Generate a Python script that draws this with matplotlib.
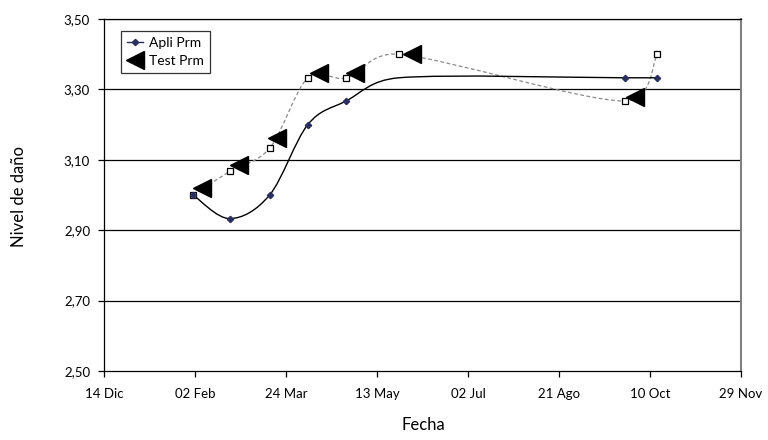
import matplotlib
matplotlib.use("Agg")
import matplotlib.pyplot as plt
import numpy as np
from matplotlib.path import Path
from matplotlib.patches import PathPatch
from matplotlib.lines import Line2D

plt.rcParams['font.family'] = ['Lato', 'DejaVu Sans']

# ---- data (days since 14 Dic) ----
x_tick_days = [0, 50, 100, 150, 200, 250, 300, 350]
x_tick_labels = ["14 Dic", "02 Feb", "24 Mar", "13 May", "02 Jul", "21 Ago", "10 Oct", "29 Nov"]
y_ticks = [2.50, 2.70, 2.90, 3.10, 3.30, 3.50]
y_tick_labels = ["2,50", "2,70", "2,90", "3,10", "3,30", "3,50"]

apli_days = [49, 69, 91, 112, 133, 162, 286, 304]
apli_vals = [3.000, 2.933, 3.000, 3.200, 3.267, 3.333, 3.333, 3.333]
apli_marked = [0, 1, 2, 3, 4, 6, 7]

test_sq_days = [49, 69, 91, 112, 133, 162, 286, 304]
test_sq_vals = [3.000, 3.067, 3.133, 3.333, 3.333, 3.400, 3.267, 3.400]

test_tri_days = [54, 74, 95, 118, 138, 169, 292]
test_tri_vals = [3.019, 3.085, 3.162, 3.346, 3.346, 3.400, 3.279]

W, H, DPI = 768, 440, 100
fig = plt.figure(figsize=(W / DPI, H / DPI), dpi=DPI)
L, R, T, B = 104, 741, 19, 371
ax = fig.add_axes([L / W, 1 - B / H, (R - L) / W, (B - T) / H])
ax.set_xlim(0, 350)
ax.set_ylim(2.5, 3.5)


def excel_smooth_path(xs, ys):
    pts = ax.transData.transform(np.column_stack([xs, ys]))
    n = len(pts)
    verts = [pts[0]]
    codes = [Path.MOVETO]
    for i in range(n - 1):
        p1, p2 = pts[i], pts[i + 1]
        p0 = pts[i - 1] if i > 0 else p1
        p3 = pts[i + 2] if i + 2 < n else p2
        d12 = np.hypot(*(p2 - p1))
        d02 = np.hypot(*(p2 - p0))
        d13 = np.hypot(*(p3 - p1))
        f0 = 1 / 6 if d02 / 6 < d12 / 2 else (d12 / (2 * d02) if d02 > 0 else 0)
        f1 = 1 / 6 if d13 / 6 < d12 / 2 else (d12 / (2 * d13) if d13 > 0 else 0)
        c1 = p1 + (p2 - p0) * f0
        c2 = p2 - (p3 - p1) * f1
        verts += [c1, c2, p2]
        codes += [Path.CURVE4] * 3
    data_verts = ax.transData.inverted().transform(np.array(verts))
    return Path(data_verts, codes)


# gridlines
for yv in y_ticks[1:]:
    ax.axhline(yv, color='black', lw=0.9, zorder=1)

# Test Prm dashed smoothed line with square markers
ax.add_patch(PathPatch(excel_smooth_path(test_sq_days, test_sq_vals), fill=False,
                       edgecolor='#8a8a8a', lw=0.9, linestyle=(0, (3, 2)), zorder=2))
ax.plot(test_sq_days, test_sq_vals, linestyle='none', marker='s', markersize=4.2,
        markerfacecolor='white', markeredgecolor='black', markeredgewidth=0.9, zorder=4)

# Apli Prm solid smoothed line with diamonds
ax.add_patch(PathPatch(excel_smooth_path(apli_days, apli_vals), fill=False,
                       edgecolor='black', lw=1.0, zorder=3))
ax.plot(apli_days, apli_vals, linestyle='none', marker='D', markersize=3.2,
        markevery=apli_marked,
        markerfacecolor='#2b2f5e', markeredgecolor='#2b2f5e', zorder=4)

# Test Prm triangles
ax.plot(test_tri_days, test_tri_vals, linestyle='none', marker='<', markersize=12.5,
        color='black', zorder=5)

# axes styling
ax.spines['top'].set_color('black')
ax.spines['top'].set_linewidth(0.9)
ax.spines['right'].set_color('#808080')
ax.spines['right'].set_linewidth(1.5)
ax.spines['left'].set_color('black')
ax.spines['left'].set_linewidth(0.9)
ax.spines['bottom'].set_color('black')
ax.spines['bottom'].set_linewidth(0.9)

ax.set_xticks(x_tick_days)
ax.set_xticklabels(x_tick_labels)
ax.set_yticks(y_ticks)
ax.set_yticklabels(y_tick_labels)
ax.tick_params(axis='both', direction='out', length=4, width=0.9, labelsize=9.5, colors='black')
ax.tick_params(axis='x', pad=8)
ax.tick_params(axis='y', pad=6)

fig.text(423 / W, 1 - 425 / H, "Fecha", ha='center', va='center', fontsize=12)
fig.text(19 / W, 1 - 196 / H, "Nivel de daño", ha='center', va='center', rotation=90, fontsize=12)

handles = [
    Line2D([], [], color='#2b2f5e', lw=1.0, marker='D', markersize=3.2),
    Line2D([], [], color='black', linestyle='none', marker='<', markersize=12.5),
]
leg = ax.legend(handles, ["Apli Prm", "Test Prm"], loc='upper left',
                bbox_to_anchor=(0.026, 0.967), borderaxespad=0, fontsize=10,
                frameon=True, fancybox=False, handlelength=1.2, handletextpad=0.4,
                labelspacing=0.45, borderpad=0.45)
leg.get_frame().set_edgecolor('black')
leg.get_frame().set_linewidth(0.9)

fig.savefig("out.png", dpi=DPI)
